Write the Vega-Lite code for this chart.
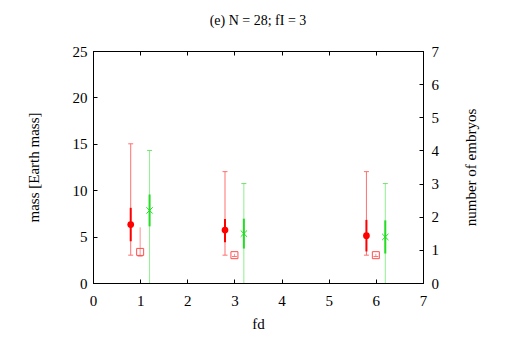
{
  "$schema": "https://vega.github.io/schema/vega-lite/v6.json",
  "width": 330,
  "height": 232,
  "autosize": {"type": "none"},
  "padding": {"left": 93, "top": 51, "right": 83, "bottom": 71},
  "background": "white",
  "config": {
    "view": {"stroke": "black", "strokeWidth": 1},
    "font": "Liberation Serif",
    "axis": {
      "grid": false,
      "domainColor": "black",
      "tickColor": "black",
      "labelColor": "black",
      "titleColor": "black",
      "labelFont": "Liberation Serif",
      "titleFont": "Liberation Serif",
      "labelFontSize": 15,
      "titleFontSize": 15,
      "titleFontWeight": "normal",
      "labelOverlap": false,
      "labelFlush": false,
      "tickSize": -4
    },
    "title": {"font": "Liberation Serif", "fontSize": 14, "fontWeight": "normal", "color": "black"}
  },
  "title": {"text": "(e) N = 28; fI = 3", "offset": 16, "font": "Liberation Serif"},
  "datasets": {
    "mass": [
      {"fd": 0.8, "mean": 6.3, "lo1": 4.5, "hi1": 8.1, "lo2": 3.0, "hi2": 15.0},
      {"fd": 2.8, "mean": 5.7, "lo1": 4.4, "hi1": 6.9, "lo2": 3.0, "hi2": 12.0},
      {"fd": 5.8, "mean": 5.1, "lo1": 3.4, "hi1": 6.8, "lo2": 3.0, "hi2": 12.0}
    ],
    "sq": [
      {"fd": 1.0, "mean": 3.35, "lo": 2.9, "hi": 6.0},
      {"fd": 3.0, "mean": 3.0, "lo": 2.85, "hi": 3.15},
      {"fd": 6.0, "mean": 3.0, "lo": 2.85, "hi": 3.15}
    ],
    "emb": [
      {"fd": 1.2, "mean": 2.19, "lo1": 1.71, "hi1": 2.67, "lo2": 0, "hi2": 4},
      {"fd": 3.2, "mean": 1.49, "lo1": 1.04, "hi1": 1.94, "lo2": 0, "hi2": 3},
      {"fd": 6.2, "mean": 1.39, "lo1": 0.89, "hi1": 1.89, "lo2": 0, "hi2": 3}
    ]
  },
  "layer": [
    {
      "layer": [
        {
          "data": {"name": "mass"},
          "mark": {"type": "rule", "color": "#ff7070", "strokeWidth": 1},
          "encoding": {
            "x": {"field": "fd", "type": "quantitative", "scale": {"domain": [0, 7], "nice": false},
                  "axis": {"orient": "bottom", "values": [0,1,2,3,4,5,6,7], "title": "fd", "labelPadding": 14, "titlePadding": 8,
                           "labelFont": "Liberation Serif", "titleFont": "Liberation Serif"}},
            "y": {"field": "lo2", "type": "quantitative", "scale": {"domain": [0, 25], "nice": false},
                  "axis": {"orient": "left", "values": [0,5,10,15,20,25], "title": "mass [Earth mass]", "labelPadding": 10, "titlePadding": 31,
                           "labelFont": "Liberation Serif", "titleFont": "Liberation Serif"}},
            "y2": {"field": "hi2"}
          }
        },
        {
          "data": {"name": "mass"},
          "mark": {"type": "point", "shape": "stroke", "size": 25, "color": "#ff7070", "strokeWidth": 1, "opacity": 1},
          "encoding": {
            "x": {"field": "fd", "type": "quantitative"},
            "y": {"field": "hi2", "type": "quantitative"}
          }
        },
        {
          "data": {"name": "mass"},
          "mark": {"type": "point", "shape": "stroke", "size": 25, "color": "#ff7070", "strokeWidth": 1, "opacity": 1},
          "encoding": {
            "x": {"field": "fd", "type": "quantitative"},
            "y": {"field": "lo2", "type": "quantitative"}
          }
        },
        {
          "data": {"name": "mass"},
          "mark": {"type": "rule", "color": "#ff0000", "strokeWidth": 2},
          "encoding": {
            "x": {"field": "fd", "type": "quantitative"},
            "y": {"field": "lo1", "type": "quantitative"},
            "y2": {"field": "hi1"}
          }
        },
        {
          "data": {"name": "mass"},
          "mark": {"type": "point", "shape": "circle", "filled": true, "size": 45, "color": "#ff0000", "opacity": 1},
          "encoding": {
            "x": {"field": "fd", "type": "quantitative"},
            "y": {"field": "mean", "type": "quantitative"}
          }
        },
        {
          "data": {"name": "sq"},
          "mark": {"type": "rule", "color": "#ff9090", "strokeWidth": 1},
          "encoding": {
            "x": {"field": "fd", "type": "quantitative"},
            "y": {"field": "lo", "type": "quantitative"},
            "y2": {"field": "hi"}
          }
        },
        {
          "data": {"name": "sq"},
          "mark": {"type": "point", "shape": "stroke", "size": 25, "color": "#ff7070", "strokeWidth": 1, "opacity": 1},
          "encoding": {
            "x": {"field": "fd", "type": "quantitative"},
            "y": {"field": "lo", "type": "quantitative"}
          }
        },
        {
          "data": {"name": "sq"},
          "mark": {"type": "point", "shape": "square", "filled": false, "size": 49, "color": "#ff5050", "strokeWidth": 1, "opacity": 1},
          "encoding": {
            "x": {"field": "fd", "type": "quantitative"},
            "y": {"field": "mean", "type": "quantitative"}
          }
        }
      ]
    },
    {
      "layer": [
        {
          "data": {"name": "emb"},
          "mark": {"type": "rule", "color": "#90ee90", "strokeWidth": 1},
          "encoding": {
            "x": {"field": "fd", "type": "quantitative",
                  "axis": {"orient": "top", "values": [0,1,2,3,4,5,6,7], "labels": false, "title": null}},
            "y": {"field": "lo2", "type": "quantitative", "scale": {"domain": [0, 7], "nice": false, "zero": true},
                  "axis": {"orient": "right", "values": [0,1,2,3,4,5,6,7], "tickCount": 8, "title": "number of embryos", "labelPadding": 12, "titlePadding": 40,
                           "titleAngle": 270, "labelOverlap": false, "labelSeparation": 0, "labelBound": false,
                           "labelFont": "Liberation Serif", "titleFont": "Liberation Serif"}},
            "y2": {"field": "hi2"}
          }
        },
        {
          "data": {"name": "emb"},
          "mark": {"type": "point", "shape": "stroke", "size": 25, "color": "#70e070", "strokeWidth": 1, "opacity": 1},
          "encoding": {
            "x": {"field": "fd", "type": "quantitative"},
            "y": {"field": "hi2", "type": "quantitative", "axis": {"values": [0,1,2,3,4,5,6,7], "labelOverlap": false}}
          }
        },
        {
          "data": {"name": "emb"},
          "mark": {"type": "rule", "color": "#22dd22", "strokeWidth": 2},
          "encoding": {
            "x": {"field": "fd", "type": "quantitative"},
            "y": {"field": "lo1", "type": "quantitative", "axis": {"values": [0,1,2,3,4,5,6,7], "labelOverlap": false}},
            "y2": {"field": "hi1"}
          }
        },
        {
          "data": {"name": "emb"},
          "mark": {"type": "point", "shape": "M-1,-1L1,1M-1,1L1,-1", "filled": false, "size": 40, "color": "#22dd22", "strokeWidth": 1, "opacity": 1},
          "encoding": {
            "x": {"field": "fd", "type": "quantitative"},
            "y": {"field": "mean", "type": "quantitative", "axis": {"values": [0,1,2,3,4,5,6,7], "labelOverlap": false}}
          }
        }
      ]
    }
  ],
  "resolve": {"scale": {"y": "independent"}, "axis": {"x": "independent"}}
}
